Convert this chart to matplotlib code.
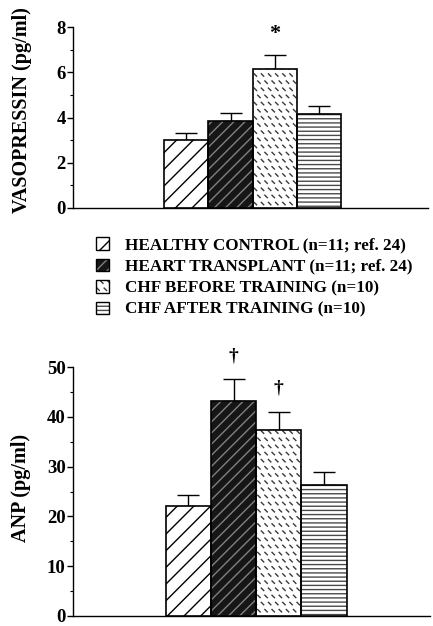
import warnings
warnings.filterwarnings('ignore')
import matplotlib
matplotlib.use('Agg')
import matplotlib.pyplot as plt
from matplotlib import hatch as mhatch
from matplotlib.path import Path
from matplotlib.patches import Patch
from matplotlib.ticker import MultipleLocator

# ---------------- data ----------------
groups = ['HEALTHY CONTROL (n=11; ref. 24)',
          'HEART TRANSPLANT (n=11; ref. 24)',
          'CHF BEFORE TRAINING (n=10)',
          'CHF AFTER TRAINING (n=10)']
vaso_mean = [3.0, 3.85, 6.15, 4.15]
vaso_sem = [0.3, 0.35, 0.6, 0.35]
anp_mean = [22.1, 43.2, 37.4, 26.4]
anp_sem = [2.1, 4.3, 3.6, 2.5]
vaso_ticks = [0, 2, 4, 6, 8]
anp_ticks = [0, 10, 20, 30, 40, 50]
vaso_marks = ['', '', '*', '']
anp_marks = ['', '\u2020', '\u2020', '']
vaso_label = 'VASOPRESSIN (pg/ml)'
anp_label = 'ANP (pg/ml)'


# ---------------- custom dash hatch ----------------
class DashHatch(mhatch.HatchPatternBase):
    def __init__(self, hatch, density):
        self.n = hatch.count('d') * 14
        self.num_vertices = 2 * self.n * self.n

    def set_vertices_and_codes(self, vertices, codes):
        n = self.n
        step = 1.0 / n
        d = 0.012
        k = 0
        for j in range(n):
            for i in range(n):
                cx = (i + 0.5 * (j % 2) + 0.25) * step
                cy = (j + 0.5) * step
                vertices[k] = (cx - d, cy + d)
                vertices[k + 1] = (cx + d, cy - d)
                codes[k] = Path.MOVETO
                codes[k + 1] = Path.LINETO
                k += 2


mhatch._hatch_types.append(DashHatch)

plt.rcParams['font.family'] = ['Liberation Serif', 'DejaVu Serif']
plt.rcParams['font.weight'] = 'bold'
plt.rcParams['hatch.linewidth'] = 1.0

styles = [
    dict(face='white', hatch='//', hcolor='black'),
    dict(face='#161616', hatch='///', hcolor='#808080'),
    dict(face='white', hatch='d', hcolor='#3a3a3a'),
    dict(face='white', hatch='----', hcolor='#4a4a4a'),
]

W, H = 433, 626
fig = plt.figure(figsize=(W / 100, H / 100), dpi=100)
ax1 = fig.add_axes([73 / W, 1 - 208 / H, 355 / W, 181 / H])
ax2 = fig.add_axes([73 / W, 1 - 616 / H, 357 / W, 249 / H])


def draw(ax, means, sems, marks, ticks, minor, xlim, mark_size, mark_off):
    xs = list(range(len(means)))
    for x, m, s, st in zip(xs, means, sems, styles):
        ax.errorbar(x, m, yerr=[[0], [s]], fmt='none', ecolor='black',
                    elinewidth=1.0, capsize=8, capthick=1.0, zorder=2)
        ax.bar(x, m, width=1.0, color=st['face'], edgecolor=st['hcolor'],
               hatch=st['hatch'], linewidth=0, zorder=3)
        ax.bar(x, m, width=1.0, fill=False, edgecolor='black',
               linewidth=1.2, zorder=4)
    for x, m, s, mk in zip(xs, means, sems, marks):
        if mk:
            ax.annotate(mk, (x, m + s), xytext=(0, mark_off),
                        textcoords='offset points', ha='center', va='center',
                        fontsize=mark_size, fontweight='bold')
    ax.set_xlim(*xlim)
    ax.set_ylim(ticks[0], ticks[-1])
    ax.set_yticks(ticks)
    ax.yaxis.set_minor_locator(MultipleLocator(minor))
    ax.set_xticks([])
    for sp in ['top', 'right']:
        ax.spines[sp].set_visible(False)
    for sp in ['left', 'bottom']:
        ax.spines[sp].set_linewidth(1.0)
    ax.tick_params(axis='y', which='major', direction='out', length=4.5,
                   width=1.0, pad=0.8, labelsize=13.5)
    ax.tick_params(axis='y', which='minor', direction='out', length=2.2,
                   width=0.8)
    for lab in ax.get_yticklabels():
        lab.set_fontweight('bold')
    ax.patch.set_alpha(0)


draw(ax1, vaso_mean, vaso_sem, vaso_marks, vaso_ticks, 1,
     (-2.56, 5.46), 16, 15)
draw(ax2, anp_mean, anp_sem, anp_marks, anp_ticks, 5,
     (-2.55, 5.34), 14, 17)

fig.text(22 / W, 1 - 110 / H, vaso_label, rotation=90, ha='center',
         va='center', fontsize=14.5, fontweight='bold')
fig.text(21 / W, 1 - 488 / H, anp_label, rotation=90, ha='center',
         va='center', fontsize=14.5, fontweight='bold')

handles = []
for st in styles:
    p1 = Patch(facecolor=st['face'], edgecolor=st['hcolor'],
               hatch=st['hatch'], linewidth=0)
    p2 = Patch(facecolor='none', edgecolor='black', linewidth=1.0)
    handles.append((p1, p2))
fig.legend(handles, groups, loc='upper left',
           bbox_to_anchor=(96 / W, 1 - 237 / H), frameon=False,
           handlelength=0.75, handleheight=0.75,
           handletextpad=0.95, labelspacing=0.31, borderpad=0,
           borderaxespad=0, prop={'weight': 'bold', 'size': 12.3})

fig.savefig('out.png', dpi=100)
